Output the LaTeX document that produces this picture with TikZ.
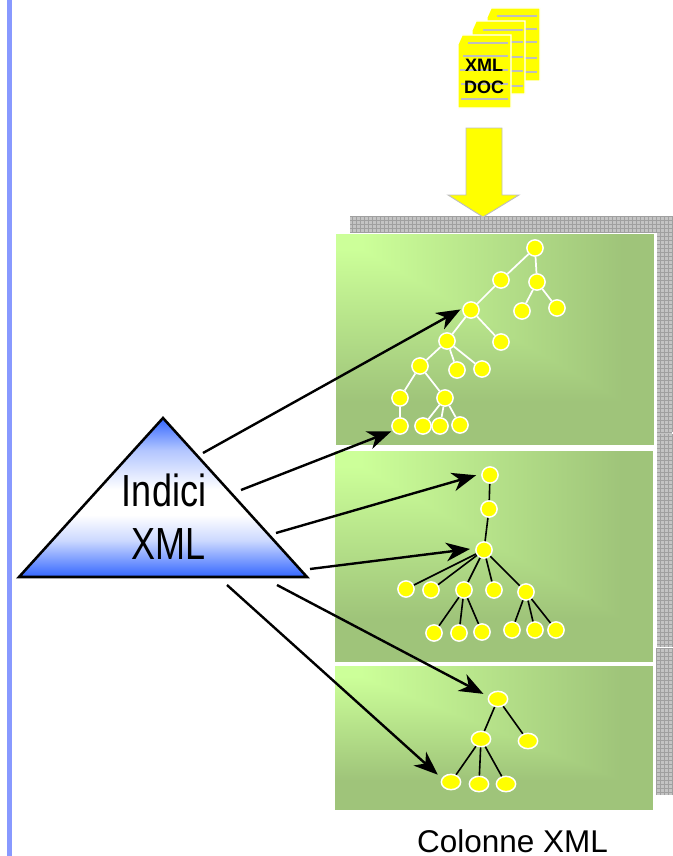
\documentclass[tikz,border=0pt]{standalone}
\usepackage{fontspec}
\setmainfont{Liberation Sans}
\usetikzlibrary{arrows.meta,shapes.geometric}
\definecolor{yel}{HTML}{FFFF00}
\definecolor{triblue}{HTML}{3366FF}
\definecolor{barblue}{HTML}{8899FF}
\definecolor{gridfill}{HTML}{C4C4C4}
\definecolor{gridline}{HTML}{A0A0A0}
\definecolor{pagegrey}{HTML}{BEBEBE}
\pgfdeclarefunctionalshading{panelgrad}{\pgfpointorigin}{\pgfpoint{100bp}{100bp}}{}{
  75 exch sub 44 div exch 25 sub 50 div
  2 copy gt {pop} {exch pop} ifelse
  0.08 sub 0.82 div
  dup 1 gt {pop 1} if
  dup 0 lt {pop 0} if
  dup -0.176 mul 0.8 add exch
  dup -0.231 mul 1 add exch
  -0.122 mul 0.6 add
}
\pgfdeclareverticalshading{trigrad}{100bp}{color(0bp)=(triblue); color(25bp)=(triblue); color(36.5bp)=(triblue!25!white); color(44.5bp)=(white); color(52.5bp)=(white); color(65bp)=(triblue!38!white); color(75bp)=(triblue); color(100bp)=(triblue)}
\tikzset{
  tn/.style={circle,fill=yel,draw=white,line width=1.1pt,minimum size=12.2pt,inner sep=0pt},
  ovaln/.style={ellipse,fill=yel,draw=white,line width=1.1pt,minimum width=14.5pt,minimum height=11.5pt,inner sep=0pt},
  whedge/.style={draw=white,line width=1.3pt},
  bedge/.style={draw=black,line width=1.2pt},
  big/.style={-{Stealth[length=18pt,width=14pt,inset=5.5pt]},line width=1.8pt,black},
  panelframe/.style={draw=white,line width=1.1pt},
  gridband/.style={fill=gridfill},
  gridlines/.style={draw=gridline,line width=.35pt,step=3pt},
  pageyl/.style={fill=yel,draw=white,line width=1pt},
  pageline/.style={draw=pagegrey,line width=1pt},
}
\newcommand{\greenpanel}[4]{%
  \shade[shading=panelgrad] (#1,#2) rectangle (#3,#4);
  \draw[panelframe] ({#1-.7},{#2-.7}) rectangle ({#3+.7},{#4+.7});
}
\newcommand{\docpage}[2]{%
  \path[pageyl] ({#1+4},#2) -- ({#1+53},#2) -- ({#1+53},{#2+73}) -- (#1,{#2+73}) -- (#1,{#2+9}) -- cycle;
}
\begin{document}
\begin{tikzpicture}[x=.75pt,y=-.75pt]
\useasboundingbox (0,0) rectangle (673,856);
% side bar
\fill[barblue] (7,0) rectangle (12,856);
% grey band
\fill[gridband] (350,216) rectangle (672,232);
\fill[gridband] (657,216) rectangle (672,432);
\fill[gridband] (657,433) rectangle (672,647);
\fill[gridband] (656,648) rectangle (672,795);
\draw[gridlines] (350,216) grid (672,232);
\draw[gridlines] (657,216) grid (672,432);
\draw[gridlines] (657,433.5) grid (672,647);
\draw[gridlines] (656,648) grid (672,795);
% panels
\greenpanel{336}{234}{654}{445}
\greenpanel{335}{451}{653}{662}
\greenpanel{335}{666}{653}{810}
% documents
\docpage{487}{8}
\foreach \yy in {16,29,42,58,72}{\draw[pageline] (497,\yy) -- (537,\yy);}
\docpage{472}{21}
\foreach \yy in {30,42,57,71,86}{\draw[pageline] (483,\yy) -- (523,\yy);}
\docpage{458}{35}
\draw[pageline] (468,43) -- (508,43);
\draw[pageline] (463,56) -- (508,56);
\draw[pageline] (460,70) -- (508,70);
\draw[pageline] (461,84) -- (508,84);
\draw[pageline] (461,99) -- (508,99);
\node[font=\bfseries,inner sep=0pt] (docxml) at (484,65) {\fontsize{13.5pt}{14pt}\selectfont XML};
\node[font=\bfseries,inner sep=0pt] (docdoc) at (484,87) {\fontsize{13.5pt}{14pt}\selectfont DOC};
% yellow arrow
\path[fill=yel,draw=pagegrey,line width=.7pt] (466,128) -- (502,128) -- (502,195) -- (519,195) -- (483,217) -- (448,195) -- (466,195) -- cycle;
% triangle
\begin{scope}
  \clip (163,418) -- (307,577) -- (19,577) -- cycle;
  \shade[shading=trigrad] (19,418) rectangle (307,577);
\end{scope}
\draw[black,line width=1.9pt,line join=miter] (163,418) -- (307,577) -- (19,577) -- cycle;
\node[inner sep=0pt] (indici) at (164,490) {\scalebox{.8}[1]{\fontsize{33.75pt}{36pt}\selectfont Indici}};
\node[inner sep=0pt] (xmlt) at (168.5,544) {\scalebox{.8}[1]{\fontsize{33.75pt}{36pt}\selectfont XML}};
\node[inner sep=0pt] (colonne) at (512.5,841) {\fontsize{23.6pt}{26pt}\selectfont Colonne XML};
% tree 1
\foreach \nm/\px/\py in {a/535/248,b/501/280,c/537/282,d/522/311,e/557/308,f/471/310,g/501/342,h/447/341,i/420/366,j/457/370,k/482/369,l/400/398,m/445/398,n/400/426,o/423/426,p/440/426,q/460/425}
  {\node[tn] (\nm) at (\px,\py) {};}
\foreach \s/\t in {a/b,a/c,b/f,c/d,c/e,f/h,f/g,h/i,h/j,h/k,i/l,i/m,l/n,m/o,m/p,m/q}
  {\draw[whedge] (\s) -- (\t);}
% tree 2
\foreach \nm/\px/\py in {r/490/475,s/489/509,t/484/550,u/406/589,v/431/590,w/464/590,x/494/590,y/526/592,za/434/633,zb/459/633,zc/482/632,zd/512/630,ze/535/630,zf/556/630}
  {\node[tn] (\nm) at (\px,\py) {};}
\foreach \s/\t in {r/s,s/t,t/u,t/v,t/w,t/x,t/y,w/za,w/zb,w/zc,y/zd,y/ze,y/zf}
  {\draw[bedge] (\s) -- (\t);}
% tree 3
\foreach \nm/\px/\py in {A/498/699,B/481/739,C/528/741,D/451/782,E/479/784,F/506/784}
  {\node[ovaln] (\nm) at (\px,\py) {};}
\foreach \s/\t in {A/B,A/C,B/D,B/E,B/F}
  {\draw[bedge] (\s) -- (\t);}
% arrows
\coordinate (t1) at (203,453);
\coordinate (t2) at (241,490);
\coordinate (t3) at (276,533);
\coordinate (t4) at (310,569);
\coordinate (t5) at (277,585);
\coordinate (t6) at (227,585);
\draw[big,shorten >=1.5pt] (t1) -- (f.170);
\draw[big,shorten >=1pt] (t2) -- (n.213);
\draw[big,shorten >=4pt] (t3) -- (r.172);
\draw[big,shorten >=4pt] (t4) -- (t.169);
\draw[big,shorten >=4pt] (t5) -- (A.165);
\draw[big,shorten >=4pt] (t6) -- (D.158);
\end{tikzpicture}
\end{document}
